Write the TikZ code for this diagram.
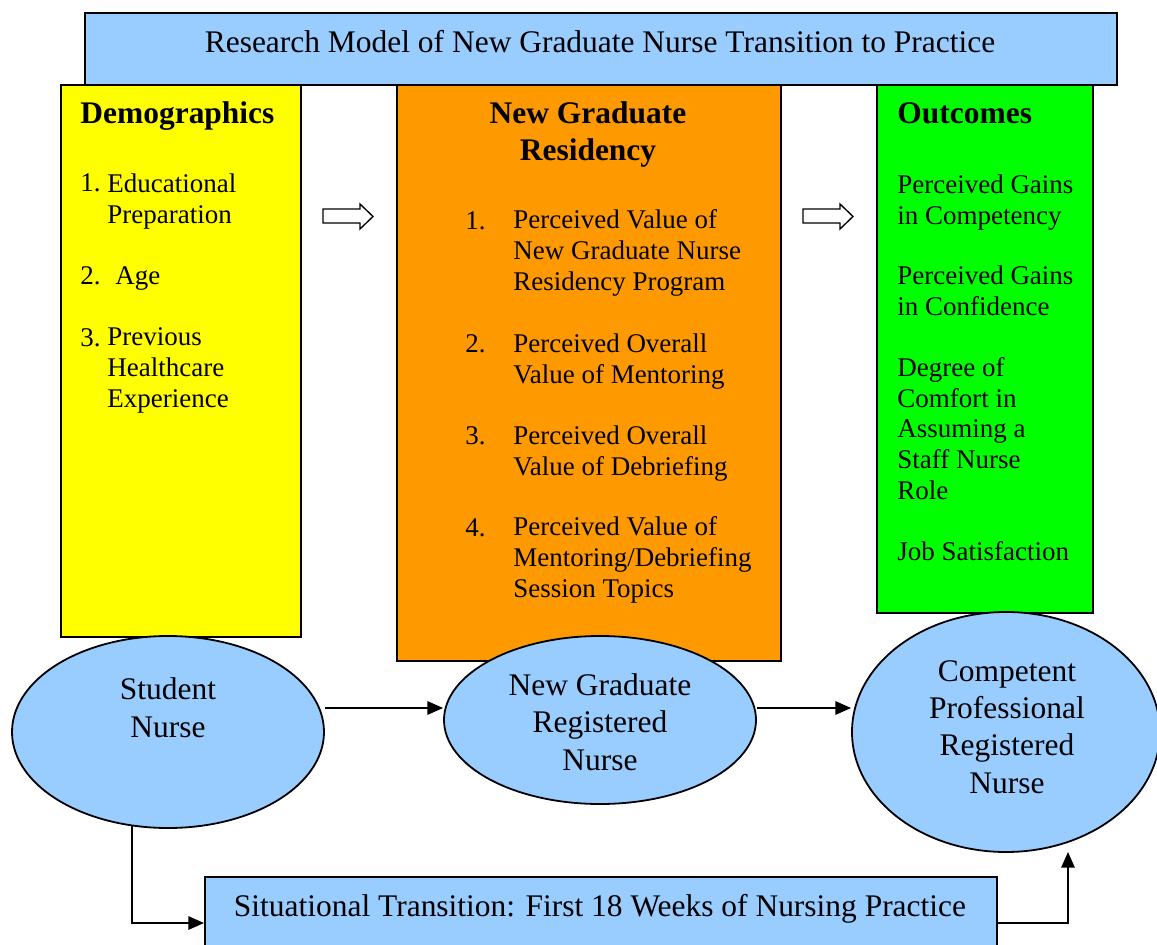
\documentclass[tikz,border=0pt]{standalone}
\usepackage{fontspec}
\setmainfont{Liberation Serif}
\usetikzlibrary{arrows.meta,shapes.geometric}
\definecolor{skyfill}{HTML}{99CCFF}
\definecolor{demofill}{HTML}{FFFF00}
\definecolor{resfill}{HTML}{FF9900}
\definecolor{outfill}{HTML}{00FF00}

\begin{document}
\begin{tikzpicture}[x=0.445pt,y=-0.445pt,
  panel/.style={draw=black, line width=0.9pt, inner sep=0pt, anchor=north west},
  oval/.style={ellipse, draw=black, line width=0.8pt, fill=skyfill, inner sep=0pt},
  bodytext/.style={inner sep=0pt, anchor=base west, align=left,
    font=\fontsize{12}{13.6}\selectfont},
  headtext/.style={inner sep=0pt, anchor=base west, align=left,
    font=\fontsize{14}{16.5}\selectfont\bfseries},
  bigtext/.style={inner sep=0pt, anchor=base, align=center,
    font=\fontsize{14}{16.5}\selectfont},
  conn/.style={draw=black, line width=0.7pt,
    -{Triangle[length=7pt,width=6pt]}},
  blockarrow/.style={draw=black, fill=white, line width=0.6pt, line join=miter}
]
\useasboundingbox (0,0) rectangle (1157,945);
\clip (0,0) rectangle (1157,945);

% title banner
\node[panel, fill=skyfill, minimum width=1032*0.445pt, minimum height=72*0.445pt]
  (banner) at (84,12) {};
\node[bigtext] (bannertext) at (600,53)
  {Research Model of New Graduate Nurse Transition to Practice};

% three columns
\node[panel, fill=demofill, minimum width=240*0.445pt, minimum height=552*0.445pt]
  (demo) at (60,84) {};
\node[panel, fill=resfill, minimum width=384*0.445pt, minimum height=576*0.445pt]
  (resid) at (396,84) {};
\node[panel, fill=outfill, minimum width=216*0.445pt, minimum height=528*0.445pt]
  (outc) at (876,84) {};

% demographics (multi-line texts sit on the baseline of their last line)
\node[headtext] (demohead) at (80,124) {Demographics};
\node[bodytext] (d1n) at (80,192) {1.};
\node[bodytext] (d1) at (107,223) {Educational\\Preparation};
\node[bodytext] (d2n) at (80,284) {2.};
\node[bodytext] (d2) at (115,284) {Age};
\node[bodytext] (d3n) at (80,346) {3.};
\node[bodytext] (d3) at (107,407) {Previous\\Healthcare\\Experience};

% residency
\node[headtext, anchor=base, align=center] (reshead) at (588,161)
  {New Graduate\\Residency};
\node[bodytext] (r1n) at (465,229) {1.};
\node[bodytext] (r1) at (513,290) {Perceived Value of\\New Graduate Nurse\\Residency Program};
\node[bodytext] (r2n) at (465,352) {2.};
\node[bodytext] (r2) at (513,383) {Perceived Overall\\Value of Mentoring};
\node[bodytext] (r3n) at (465,444) {3.};
\node[bodytext] (r3) at (513,475) {Perceived Overall\\Value of Debriefing};
\node[bodytext] (r4n) at (465,536) {4.};
\node[bodytext] (r4) at (513,597) {Perceived Value of\\Mentoring/Debriefing\\Session Topics};

% outcomes
\node[headtext] (outhead) at (897,124) {Outcomes};
\node[bodytext] (o1) at (897,224) {Perceived Gains\\in Competency};
\node[bodytext] (o2) at (897,315) {Perceived Gains\\in Confidence};
\node[bodytext] (o3) at (897,499) {Degree of\\Comfort in\\Assuming a\\Staff Nurse\\Role};
\node[bodytext] (o4) at (897,560) {Job Satisfaction};

% hollow arrows between columns
\path[blockarrow] (323,209) -- (360,209) -- (360,204) -- (373,216.5)
  -- (360,229) -- (360,223) -- (323,223) -- cycle;
\path[blockarrow] (803,209) -- (840,209) -- (840,204) -- (853,216.5)
  -- (840,229) -- (840,223) -- (803,223) -- cycle;

% role stages
\node[oval, minimum width=312*0.445pt, minimum height=192*0.445pt]
  (student) at (168,732) {};
\node[oval, minimum width=312*0.445pt, minimum height=168*0.445pt]
  (newgrad) at (600,720) {};
\node[oval, minimum width=308*0.445pt, minimum height=240*0.445pt]
  (competent) at (1006,732) {};
\node[bigtext] (studenttext) at (168,737) {Student\\Nurse};
\node[bigtext] (newgradtext) at (600,770) {New Graduate\\Registered\\Nurse};
\node[bigtext] (competenttext) at (1007,793) {Competent\\Professional\\Registered\\Nurse};

% transition bar
\node[panel, fill=skyfill, minimum width=792*0.445pt, minimum height=100*0.445pt]
  (trans) at (204,876) {};
\node[bigtext] (transtext) at (600,916)
  {Situational Transition: First 18 Weeks of Nursing Practice};

% connectors
\coordinate (lvl) at (0,708);
\coordinate (blvl) at (0,923);
\coordinate (rc) at (1068,852);
\draw[conn] (student.east |- lvl) -- (newgrad.west |- lvl);
\draw[conn] (newgrad.east |- lvl) -- (competent.west |- lvl);
\draw[conn] (student.249) |- (trans.west |- blvl);
\draw[conn] (trans.east |- blvl) -| (rc);
\end{tikzpicture}
\end{document}
